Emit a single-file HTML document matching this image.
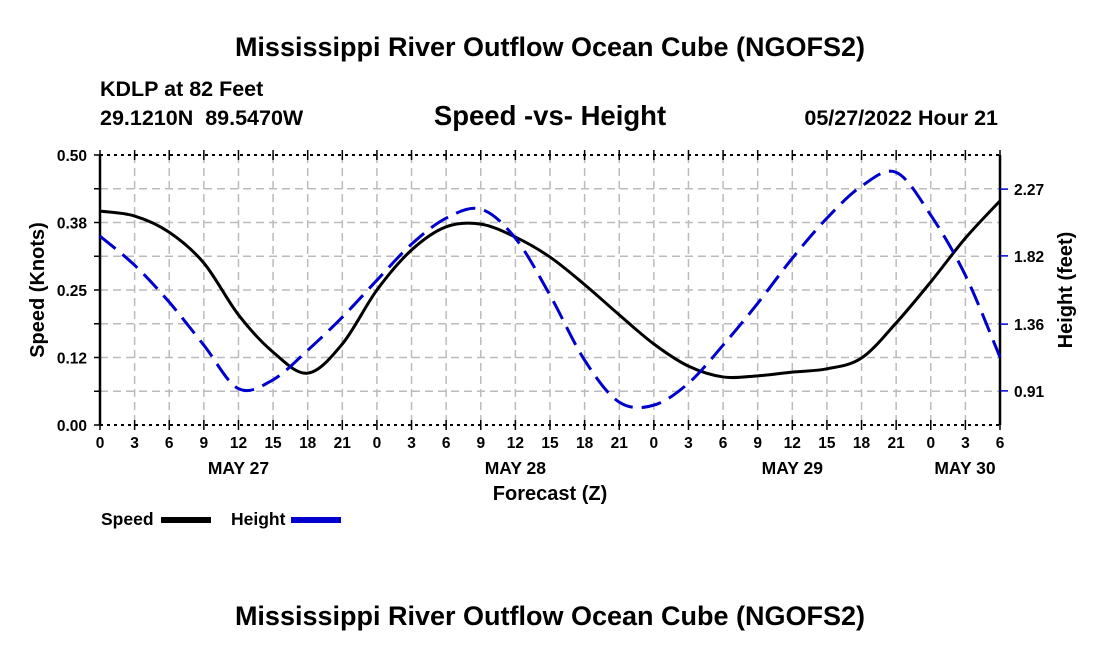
<!DOCTYPE html>
<html><head><meta charset="utf-8"><style>
body{margin:0;background:#fff;}
svg{display:block;font-family:"Liberation Sans",Arial,sans-serif;font-weight:bold;}
</style></head><body>
<svg id="chart" width="1100" height="650" viewBox="0 0 1100 650" xmlns="http://www.w3.org/2000/svg">
<rect width="1100" height="650" fill="#fff"/>
<text x="550" y="56" font-size="27" text-anchor="middle">Mississippi River Outflow Ocean Cube (NGOFS2)</text>
<text x="100" y="96" font-size="21.5">KDLP at 82 Feet</text>
<text x="100" y="125" font-size="21.5" xml:space="preserve">29.1210N  89.5470W</text>
<text x="550" y="125" font-size="27.5" text-anchor="middle">Speed -vs- Height</text>
<text x="998" y="125" font-size="21.5" text-anchor="end">05/27/2022 Hour 21</text>
<g id="grid"></g>
<g id="axes"></g>
<g id="series"></g>
<text transform="translate(44,290) rotate(-90)" font-size="20" text-anchor="middle">Speed (Knots)</text>
<text transform="translate(1072,290) rotate(-90)" font-size="20" text-anchor="middle">Height (feet)</text>
<text x="550" y="500" font-size="20" text-anchor="middle">Forecast (Z)</text>
<g>
<text x="101" y="525" font-size="17.5">Speed</text>
<rect x="161" y="517" width="50" height="6" fill="#000"/>
<text x="231" y="525" font-size="17.5">Height</text>
<rect x="291" y="517" width="50" height="6" fill="#00c"/>
</g>
<text x="550" y="625" font-size="27" text-anchor="middle">Mississippi River Outflow Ocean Cube (NGOFS2)</text>
</svg>
<script>
const hours = [0,3,6,9,12,15,18,21,24,27,30,33,36,39,42,45,48,51,54,57,60,63,66,69,72,75,78];
const speed = [0.396,0.387,0.357,0.300,0.204,0.135,0.096,0.150,0.250,0.324,0.367,0.372,0.348,0.311,0.260,0.204,0.150,0.109,0.089,0.091,0.098,0.104,0.124,0.189,0.265,0.346,0.415];
const height = [1.953,1.757,1.508,1.218,0.925,0.985,1.184,1.407,1.656,1.899,2.074,2.135,1.939,1.555,1.117,0.834,0.814,0.962,1.218,1.500,1.804,2.074,2.290,2.383,2.094,1.689,1.137];
const xTickLabels = ["0","3","6","9","12","15","18","21","0","3","6","9","12","15","18","21","0","3","6","9","12","15","18","21","0","3","6"];
const dayLabels = ["MAY 27","MAY 28","MAY 29","MAY 30"];
const dayHours = [12,36,60,78];
const yTickLabels = ["0.00","0.12","0.25","0.38","0.50"];
const y2TickLabels = ["0.91","1.36","1.82","2.27"];
const y2TickValues = [0.91,1.36,1.82,2.27];

const L=100,R=1000,T=155,B=425;
const xs=h=>L+(h-0)/78*(R-L);
const ys=v=>B-(v/0.5)*(B-T);
const H0=0.68,H1=2.50;
const yh=v=>B-(v-H0)/(H1-H0)*(B-T);
const NS="http://www.w3.org/2000/svg";
function mk(tag,attrs,parent){const e=document.createElementNS(NS,tag);for(const k in attrs)e.setAttribute(k,attrs[k]);parent.appendChild(e);return e;}
const grid=document.getElementById('grid'),axes=document.getElementById('axes'),series=document.getElementById('series');

for(let i=1;i<26;i++){const x=xs(i*3);const l=mk('line',{x1:x,x2:x,y1:T,y2:B,stroke:'#bbb','stroke-width':1.5,'stroke-dasharray':'8,5'},grid);

}
for(let i=1;i<8;i++){const y=ys(i*0.0625);const l=mk('line',{x1:L,x2:R,y1:y,y2:y,stroke:'#bbb','stroke-width':1.5,'stroke-dasharray':'8,5'},grid);

}

mk('line',{x1:L,x2:R,y1:T,y2:T,stroke:'#000','stroke-width':2,'stroke-dasharray':'3,4'},axes);
mk('line',{x1:L,x2:R,y1:B,y2:B,stroke:'#000','stroke-width':2,'stroke-dasharray':'3,4'},axes);
mk('line',{x1:L,x2:L,y1:T,y2:B,stroke:'#000','stroke-width':2.5},axes);
mk('line',{x1:R,x2:R,y1:T,y2:B,stroke:'#000','stroke-width':2.5},axes);

hours.forEach((h,i)=>{const x=xs(h);
mk('line',{x1:x,x2:x,y1:T-5,y2:T+5,stroke:'#000','stroke-width':1.5},axes);
mk('line',{x1:x,x2:x,y1:B-5,y2:B+5,stroke:'#000','stroke-width':1.5},axes);
const t=mk('text',{x:x,y:448,'font-size':15.5,'text-anchor':'middle'},axes);t.textContent=xTickLabels[i];

});
dayLabels.forEach((d,i)=>{const t=mk('text',{x:xs(dayHours[i])-(i==3?35:0),y:474,'font-size':17.5,'text-anchor':'middle'},axes);t.textContent=d;

});
for(let i=0;i<=8;i++){const y=ys(i*0.0625);mk('line',{x1:L-6,x2:L,y1:y,y2:y,stroke:'#000','stroke-width':1.5},axes);}
yTickLabels.forEach((s,i)=>{const y=ys(i*0.125);const t=mk('text',{x:L-13,y:y+6,'font-size':15.5,'text-anchor':'end'},axes);t.textContent=s;

});
y2TickValues.forEach((v,i)=>{const y=yh(v);mk('line',{x1:R,x2:R+8,y1:y,y2:y,stroke:'#00c','stroke-width':1.5},axes);
const t=mk('text',{x:R+14,y:y+6,'font-size':15.5},axes);t.textContent=y2TickLabels[i];

});

function smooth(pts){let d=`M${pts[0][0]},${pts[0][1]}`;for(let i=0;i<pts.length-1;i++){const p0=pts[Math.max(0,i-1)],p1=pts[i],p2=pts[i+1],p3=pts[Math.min(pts.length-1,i+2)];
d+=` C${p1[0]+(p2[0]-p0[0])/6},${p1[1]+(p2[1]-p0[1])/6} ${p2[0]-(p3[0]-p1[0])/6},${p2[1]-(p3[1]-p1[1])/6} ${p2[0]},${p2[1]}`;}return d;}
const sp=mk('path',{d:smooth(hours.map((h,i)=>[xs(h),ys(speed[i])])),fill:'none',stroke:'#000','stroke-width':3},series);


const hp=mk('path',{d:smooth(hours.map((h,i)=>[xs(h),yh(height[i])])),fill:'none',stroke:'#00c','stroke-width':3,'stroke-dasharray':'20,9'},series);


</script>
</body></html>
